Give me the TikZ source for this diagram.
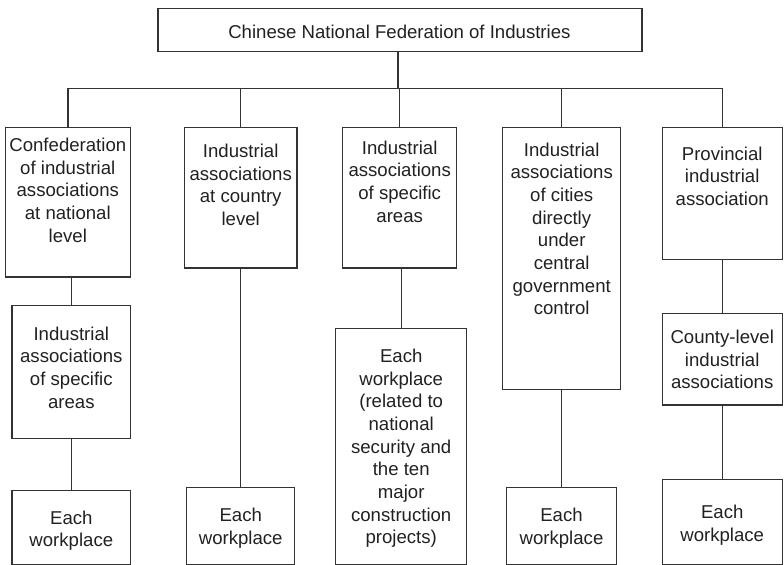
\documentclass[tikz,border=0pt]{standalone}
\usepackage{fontspec}
\setmainfont{Liberation Sans}
\newlength{\du}
\setlength{\du}{1bp}
\definecolor{dialinecolor}{rgb}{0.200000, 0.200000, 0.200000}
\definecolor{dialinetext}{rgb}{0.130000, 0.130000, 0.130000}
\tikzset{
  orgbox/.style={draw=dialinecolor, rectangle, inner sep=0pt, outer sep=0pt},
  orgtext/.style={anchor=north, align=center, inner sep=0pt, text=dialinetext,
    font=\fontsize{18.6bp}{22.7bp}\selectfont},
}
\begin{document}
\begin{tikzpicture}
\pgftransformxscale{1.000000}
\pgftransformyscale{-1.000000}
\pgfsetlinewidth{1.100000\du}
\useasboundingbox (0\du,0\du) rectangle (784\du,565\du);
% federation
\node[orgbox, minimum width=484.0\du, minimum height=43.4\du] (fed) at (400.0\du,30.0\du){};
\node[orgtext] (fedtext) at (399.4\du,24.4\du){Chinese National Federation of Industries};
% first row
\node[orgbox, minimum width=124.6\du, minimum height=149.3\du] (c1a) at (68.0\du,202.3\du){};
\node[orgtext] (c1atext) at (67.8\du,137.4\du){Confederation\\of industrial\\associations\\at national\\level};
\node[orgbox, minimum width=112.3\du, minimum height=140.3\du] (c2a) at (240.8\du,197.8\du){};
\node[orgtext] (c2atext) at (240.7\du,143.4\du){Industrial\\associations\\at country\\level};
\node[orgbox, minimum width=114.0\du, minimum height=140.3\du] (c3a) at (399.7\du,197.8\du){};
\node[orgtext] (c3atext) at (399.7\du,140.0\du){Industrial\\associations\\of specific\\areas};
\node[orgbox, minimum width=118.0\du, minimum height=261.6\du] (c4a) at (561.7\du,258.5\du){};
\node[orgtext] (c4atext) at (561.7\du,142.0\du){Industrial\\associations\\of cities\\directly\\under\\central\\government\\control};
\node[orgbox, minimum width=120.3\du, minimum height=131.6\du] (c5a) at (722.2\du,193.5\du){};
\node[orgtext] (c5atext) at (722.2\du,146.0\du){Provincial\\industrial\\association};
% second row
\node[orgbox, minimum width=118.7\du, minimum height=133.0\du] (c1b) at (71.3\du,372.2\du){};
\node[orgtext] (c1btext) at (71.3\du,326.0\du){Industrial\\associations\\of specific\\areas};
\node[orgbox, minimum width=131.0\du, minimum height=235.7\du] (c3b) at (401.2\du,446.2\du){};
\node[orgtext] (c3btext) at (401.2\du,348.3\du){Each\\workplace\\(related to\\national\\security and\\the ten\\major\\construction\\projects)};
\node[orgbox, minimum width=120.3\du, minimum height=91.3\du] (c5b) at (722.2\du,359.3\du){};
\node[orgtext] (c5btext) at (722.2\du,329.3\du){County-level\\industrial\\associations};
% workplaces
\node[orgbox, minimum width=118.7\du, minimum height=74.3\du] (c1c) at (71.3\du,527.2\du){};
\node[orgtext] (c1ctext) at (71.3\du,510.0\du){Each\\workplace};
\node[orgbox, minimum width=108.0\du, minimum height=76.7\du] (c2b) at (240.7\du,525.7\du){};
\node[orgtext] (c2btext) at (240.7\du,507.7\du){Each\\workplace};
\node[orgbox, minimum width=109.6\du, minimum height=76.7\du] (c4b) at (561.5\du,525.7\du){};
\node[orgtext] (c4btext) at (561.5\du,507.7\du){Each\\workplace};
\node[orgbox, minimum width=120.3\du, minimum height=84.7\du] (c5c) at (722.2\du,521.7\du){};
\node[orgtext] (c5ctext) at (722.2\du,504.3\du){Each\\workplace};
% connectors
\coordinate (bus) at (398.0\du,88.3\du);
\draw[dialinecolor] (fed.south -| bus) -- (bus);
\draw[dialinecolor] (c1a.north) |- (bus) -| (c5a.north);
\draw[dialinecolor] (c2a.north) -- (c2a.north |- bus);
\draw[dialinecolor] (c3a.north) -- (c3a.north |- bus);
\draw[dialinecolor] (c4a.north) -- (c4a.north |- bus);
\draw[dialinecolor] (c1b.north) -- (c1b.north |- c1a.south);
\draw[dialinecolor] (c1c.north) -- (c1c.north |- c1b.south);
\draw[dialinecolor] (c2b.north) -- (c2b.north |- c2a.south);
\draw[dialinecolor] (c3b.north) -- (c3b.north |- c3a.south);
\draw[dialinecolor] (c4b.north) -- (c4b.north |- c4a.south);
\draw[dialinecolor] (c5b.north) -- (c5b.north |- c5a.south);
\draw[dialinecolor] (c5c.north) -- (c5c.north |- c5b.south);
\end{tikzpicture}
\end{document}
